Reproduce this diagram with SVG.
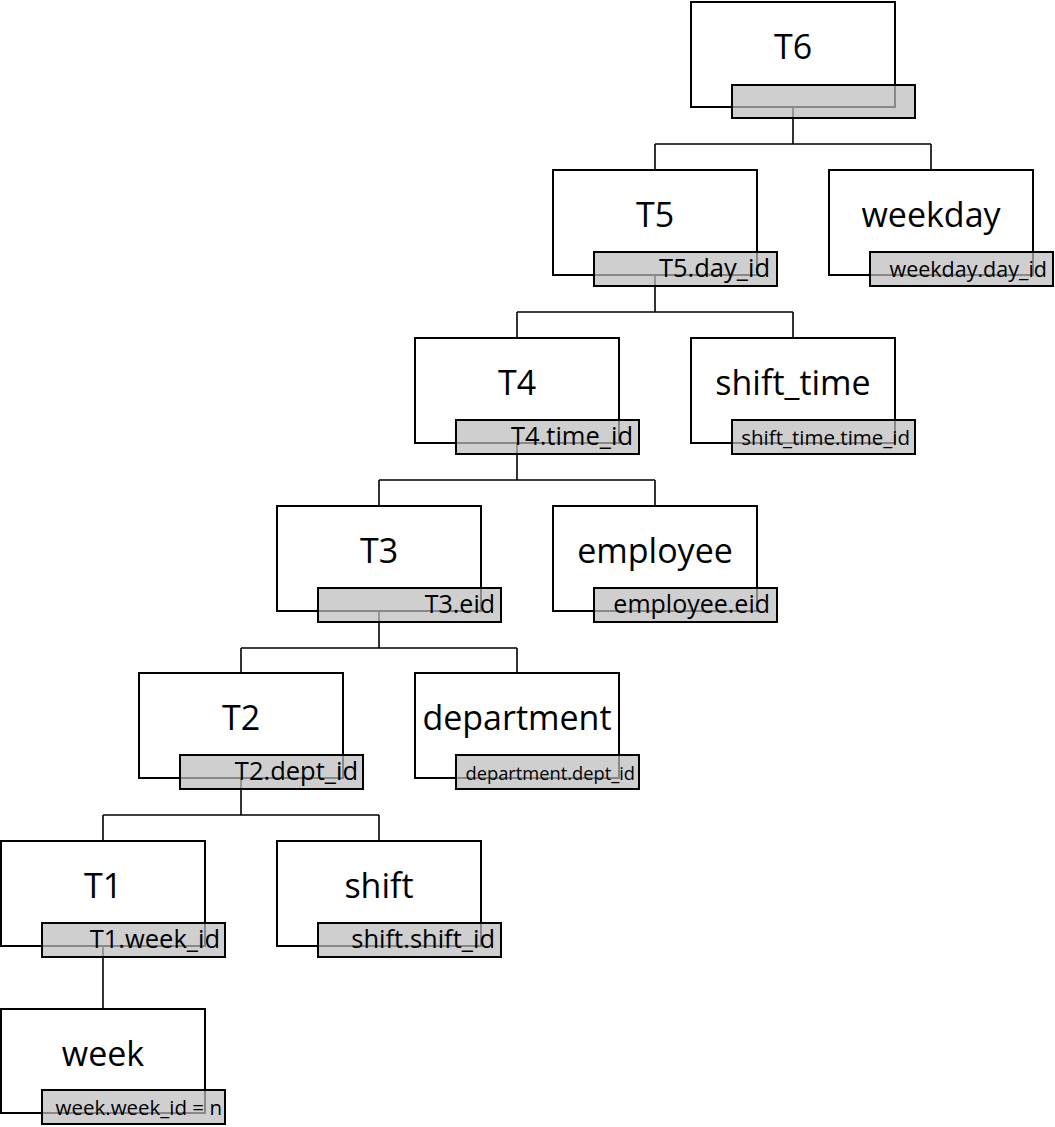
<svg xmlns="http://www.w3.org/2000/svg" width="1055" height="1127" viewBox="0 0 1055 1127">
<style>
.box{fill:#fff;stroke:#000;stroke-width:2}
.key{fill:#bdbdbd;fill-opacity:0.72;stroke:#000;stroke-width:2}
.title{font-family:"Open Sans","Liberation Sans",sans-serif;font-size:34px;fill:#000;text-anchor:middle}
.lbl{font-family:"Open Sans","Liberation Sans",sans-serif;font-size:25.5px;fill:#000;text-anchor:end}
.conn{fill:none;stroke:#000;stroke-width:1.6}
</style>
<rect width="1055" height="1127" fill="#fff"/>
<g id="connectors">
<path class="conn" d="M793,107 V144 M655,144 H931 M655,144 V170 M931,144 V170"/>
<path class="conn" d="M655,275 V312 M517,312 H793 M517,312 V338 M793,312 V338"/>
<path class="conn" d="M517,443 V480 M379,480 H655 M379,480 V506 M655,480 V506"/>
<path class="conn" d="M379,611 V648 M241,648 H517 M241,648 V673 M517,648 V673"/>
<path class="conn" d="M241,778 V815 M103,815 H379 M103,815 V841 M379,815 V841"/>
<path class="conn" d="M103,946 V1009"/>
</g>
<g id="T6">
<rect class="box" x="691" y="2" width="204" height="105"/>
<text class="title" x="793" y="59">T6</text>
<rect class="key" x="732" y="85" width="183" height="33"/>
</g>
<g id="T5">
<rect class="box" x="553" y="170" width="204" height="105"/>
<text class="title" x="655" y="227">T5</text>
<rect class="key" x="594" y="252" width="183" height="34"/>
<text class="lbl" x="770" y="277">T5.day_id</text>
</g>
<g id="weekday">
<rect class="box" x="829" y="170" width="204" height="105"/>
<text class="title" x="931" y="227">weekday</text>
<rect class="key" x="870" y="252" width="183" height="34"/>
<text class="lbl" x="1047" y="277" style="font-size:21.5px">weekday.day_id</text>
</g>
<g id="T4">
<rect class="box" x="415" y="338" width="204" height="105"/>
<text class="title" x="517" y="395">T4</text>
<rect class="key" x="456" y="420" width="183" height="34"/>
<text class="lbl" x="633" y="445">T4.time_id</text>
</g>
<g id="shift_time">
<rect class="box" x="691" y="338" width="204" height="105"/>
<text class="title" x="793" y="395">shift_time</text>
<rect class="key" x="732" y="420" width="183" height="34"/>
<text class="lbl" x="910" y="445" style="font-size:20.5px">shift_time.time_id</text>
</g>
<g id="T3">
<rect class="box" x="277" y="506" width="204" height="105"/>
<text class="title" x="379" y="563">T3</text>
<rect class="key" x="318" y="588" width="183" height="34"/>
<text class="lbl" x="495" y="613" style="font-size:25px">T3.eid</text>
</g>
<g id="employee">
<rect class="box" x="553" y="506" width="204" height="105"/>
<text class="title" x="655" y="563">employee</text>
<rect class="key" x="594" y="588" width="183" height="34"/>
<text class="lbl" x="770" y="613" style="font-size:25px">employee.eid</text>
</g>
<g id="T2">
<rect class="box" x="139" y="673" width="204" height="105"/>
<text class="title" x="241" y="730">T2</text>
<rect class="key" x="180" y="755" width="183" height="34"/>
<text class="lbl" x="358" y="780">T2.dept_id</text>
</g>
<g id="department">
<rect class="box" x="415" y="673" width="204" height="105"/>
<text class="title" x="517" y="730">department</text>
<rect class="key" x="456" y="755" width="183" height="34"/>
<text class="lbl" x="635" y="780" style="font-size:18.3px">department.dept_id</text>
</g>
<g id="T1">
<rect class="box" x="1" y="841" width="204" height="105"/>
<text class="title" x="103" y="898">T1</text>
<rect class="key" x="42" y="923" width="183" height="34"/>
<text class="lbl" x="220" y="948">T1.week_id</text>
</g>
<g id="shift">
<rect class="box" x="277" y="841" width="204" height="105"/>
<text class="title" x="379" y="898">shift</text>
<rect class="key" x="318" y="923" width="183" height="34"/>
<text class="lbl" x="495" y="948">shift.shift_id</text>
</g>
<g id="week">
<rect class="box" x="1" y="1009" width="204" height="104"/>
<text class="title" x="103" y="1066">week</text>
<rect class="key" x="42" y="1090" width="183" height="34"/>
<text class="lbl" x="222" y="1115" style="font-size:20.5px">week.week_id = n</text>
</g>
</svg>
